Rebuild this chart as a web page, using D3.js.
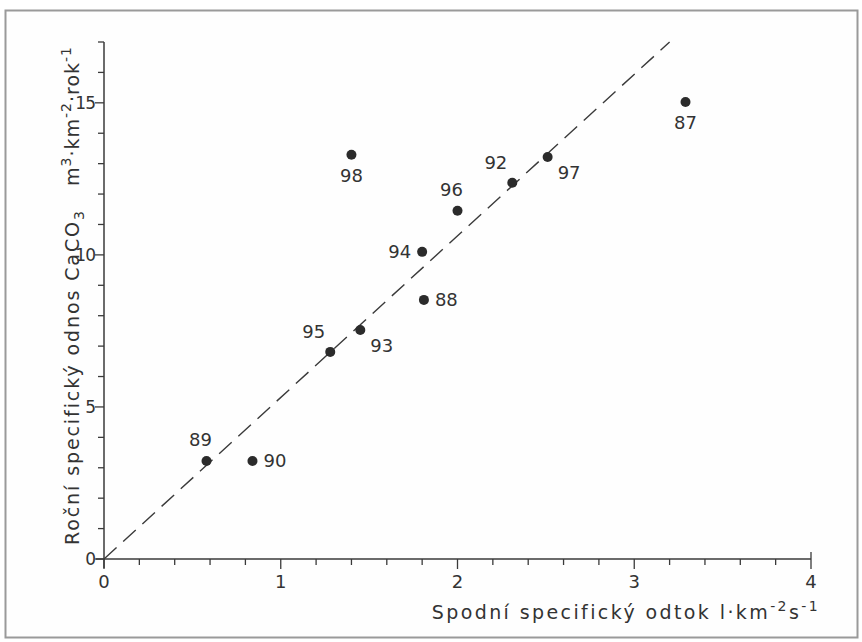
<!DOCTYPE html>
<html><head><meta charset="utf-8">
<script src="https://cdn.jsdelivr.net/npm/d3@7"></script>
<style>
html,body{margin:0;padding:0;background:#fff;}
svg{display:block;}
text{font-family:"DejaVu Sans",sans-serif;fill:#333;}
</style></head><body>
<svg id="c" width="862" height="642"></svg>
<script>
// Data
const years = ["87","88","89","90","92","93","94","95","96","97","98"];
const xValues = [3.29,1.81,0.58,0.84,2.31,1.45,1.80,1.28,2.00,2.51,1.40];
const yValues = [15.03,8.52,3.22,3.22,12.37,7.53,10.10,6.81,11.45,13.22,13.29];
const labelPos = ["below","right","above","right","aboveleft","belowright","left","aboveleft","above","belowright","below"];
const xTicks = [0,1,2,3,4];
const yTicks = [0,5,10,15];
const lineX = [0,3.2];
const lineY = [0,17];

const svg = d3.select("#c");
svg.append("rect").attr("x",5.5).attr("y",10.5).attr("width",852).attr("height",627)
  .attr("fill","#fefefe").attr("stroke","#9a9a9a").attr("stroke-width",2);

const x = d3.scaleLinear().domain([0,4]).range([104,811]);
const y = d3.scaleLinear().domain([0,17]).range([559,42]);

const ink = "#3a3a3a";

// x axis
const gx = svg.append("g").attr("transform","translate(0,559)");
gx.append("line").attr("x1",x(0)-8).attr("x2",x(4)).attr("stroke",ink).attr("stroke-width",1.5);
const xMinor = d3.range(0,4.001,0.2);
gx.selectAll("line.t").data(xMinor).join("line").attr("class","t")
  .attr("x1",d=>x(d)).attr("x2",d=>x(d)).attr("y1",d=>Math.abs(d-4)<1e-6?-7:0)
  .attr("y2",d=>Math.abs(d-Math.round(d))<1e-6?10:6)
  .attr("stroke",ink).attr("stroke-width",1.3);
gx.selectAll("text").data(xTicks).join("text")
  .attr("x",d=>x(d)).attr("y",29).attr("text-anchor","middle")
  .attr("font-size",18).text(d=>d);

// y axis
const gy = svg.append("g").attr("transform","translate(104,0)");
gy.append("line").attr("y1",y(17)).attr("y2",y(0)+9).attr("stroke",ink).attr("stroke-width",1.5);
const yMinor = d3.range(0,17.001,1);
gy.selectAll("line.t").data(yMinor).join("line").attr("class","t")
  .attr("y1",d=>y(d)).attr("y2",d=>y(d)).attr("x1",0)
  .attr("x2",d=>d%5===0?-9:-6)
  .attr("stroke",ink).attr("stroke-width",1.3);
gy.selectAll("text").data(yTicks).join("text")
  .attr("x",-9).attr("y",d=>y(d)+6).attr("text-anchor","end")
  .attr("font-size",17).attr("letter-spacing",-1).text(d=>d);

// dashed line
svg.append("line").attr("x1",x(lineX[0])).attr("y1",y(lineY[0]))
  .attr("x2",x(lineX[1])).attr("y2",y(lineY[1]))
  .attr("stroke",ink).attr("stroke-width",1.4).attr("stroke-dasharray","17,9");

// points
const pts = years.map((yr,i)=>({yr,x:xValues[i],y:yValues[i],p:labelPos[i]}));
svg.selectAll("circle.pt").data(pts).join("circle").attr("class","pt")
  .attr("cx",d=>x(d.x)).attr("cy",d=>y(d.y)).attr("r",5).attr("fill","#2b2b2b");
const off = {
  below:[0,27,"middle"], right:[11,6,"start"], above:[-6,-15,"middle"],
  aboveleft:[-5,-14,"end"], belowright:[10,22,"start"], left:[-11,6,"end"]
};
svg.selectAll("text.lbl").data(pts).join("text").attr("class","lbl")
  .attr("x",d=>x(d.x)+off[d.p][0]).attr("y",d=>y(d.y)+off[d.p][1])
  .attr("text-anchor",d=>off[d.p][2]).attr("font-size",18).text(d=>d.yr);

// x label
const xl = svg.append("text").attr("x",820).attr("y",619).attr("text-anchor","end")
  .attr("font-size",19).attr("letter-spacing",2.4);
xl.append("tspan").text("Spodní specifický odtok  l·km");
xl.append("tspan").attr("dy",-8).attr("font-size",14).text("-2");
xl.append("tspan").attr("dy",8).text("s");
xl.append("tspan").attr("dy",-8).attr("font-size",14).text("-1");

// y label
const yl = svg.append("g").attr("transform","translate(79,0) rotate(-90)");
const t1 = yl.append("text").attr("x",-545).attr("y",0).attr("font-size",19).attr("letter-spacing",1.9);
t1.append("tspan").text("Roční specifický odnos CaCO");
t1.append("tspan").attr("dy",5).attr("font-size",14).text("3");
const t2 = yl.append("text").attr("x",-46).attr("y",0).attr("text-anchor","end").attr("font-size",19).attr("letter-spacing",1);
t2.append("tspan").text("m");
t2.append("tspan").attr("dy",-8).attr("font-size",14).text("3");
t2.append("tspan").attr("dy",8).text("·km");
t2.append("tspan").attr("dy",-8).attr("font-size",14).text("-2");
t2.append("tspan").attr("dy",8).text("·rok");
t2.append("tspan").attr("dy",-8).attr("font-size",14).text("-1");
</script></body></html>
